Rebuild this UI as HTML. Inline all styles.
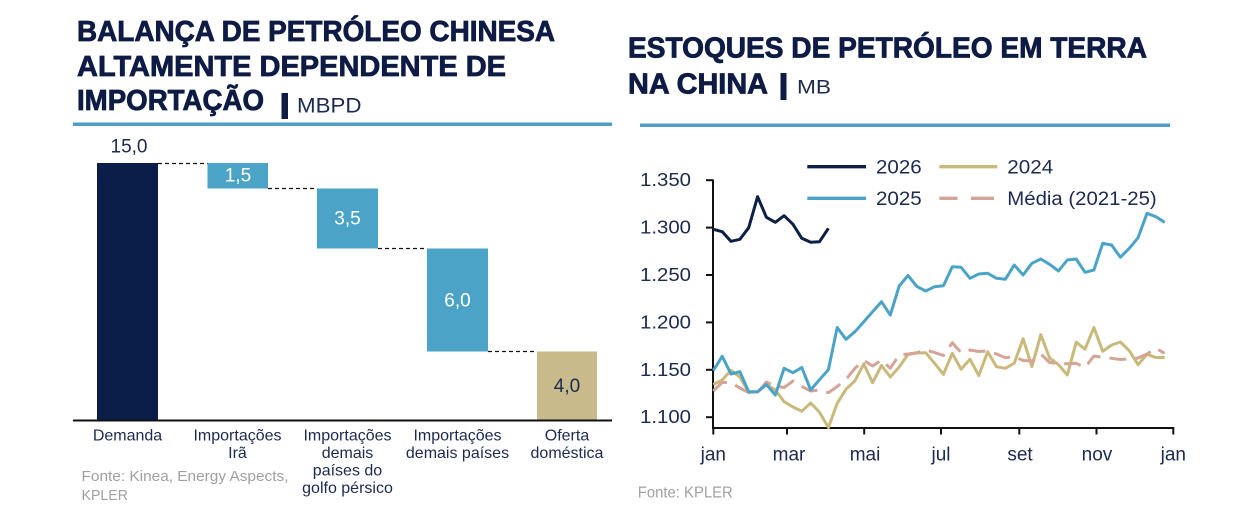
<!DOCTYPE html>
<html>
<head>
<meta charset="utf-8">
<style>
  html, body { margin: 0; padding: 0; background: #ffffff; }
  svg { display: block; }
  text { font-family: "Liberation Sans", "DejaVu Sans", sans-serif; }
</style>
</head>
<body>
<svg width="1240" height="522" viewBox="0 0 1240 522" xmlns="http://www.w3.org/2000/svg">
  <rect x="0" y="0" width="1240" height="522" fill="#ffffff"/>

  <!-- ================= LEFT CHART ================= -->
  <g fill="#0d1b45" stroke="#0d1b45" stroke-width="0.8" font-weight="bold" font-size="29">
    <text x="77" y="41" textLength="478" lengthAdjust="spacingAndGlyphs">BALANÇA DE PETRÓLEO CHINESA</text>
    <text x="77" y="76" textLength="429" lengthAdjust="spacingAndGlyphs">ALTAMENTE DEPENDENTE DE</text>
    <text x="77" y="110" textLength="187" lengthAdjust="spacingAndGlyphs">IMPORTAÇÃO</text>
  </g>
  <rect x="281.5" y="93" width="6.5" height="26" fill="#0d1b45"/>
  <text x="297" y="112.5" font-size="21" fill="#1b2a50" textLength="64.5" lengthAdjust="spacingAndGlyphs">MBPD</text>
  <rect x="73" y="122.5" width="539" height="3.5" fill="#4f9ec3"/>

  <!-- bars -->
  <rect x="97" y="163" width="61" height="257" fill="#0b1d49"/>
  <rect x="207.5" y="163" width="60.5" height="25.5" fill="#4ba3c8"/>
  <rect x="317" y="188.5" width="61" height="60" fill="#4ba3c8"/>
  <rect x="427" y="248.5" width="61" height="103" fill="#4ba3c8"/>
  <rect x="537" y="351.5" width="60" height="68.5" fill="#c9ba8b"/>

  <!-- connectors -->
  <g stroke="#111" stroke-width="1.2" stroke-dasharray="4 3" fill="none">
    <line x1="158" y1="163.5" x2="207.5" y2="163.5"/>
    <line x1="268" y1="188.5" x2="317" y2="188.5"/>
    <line x1="378" y1="248.5" x2="427" y2="248.5"/>
    <line x1="488" y1="351.5" x2="537" y2="351.5"/>
  </g>

  <!-- axis -->
  <rect x="73" y="419.5" width="539" height="2" fill="#111"/>

  <!-- value labels -->
  <g font-size="19" text-anchor="middle">
    <text x="129" y="152.7" fill="#1b2a50">15,0</text>
    <text x="238" y="181.7" fill="#ffffff">1,5</text>
    <text x="347.5" y="224.7" fill="#ffffff">3,5</text>
    <text x="457.5" y="306.7" fill="#ffffff">6,0</text>
    <text x="567" y="392" fill="#1b2a50">4,0</text>
  </g>

  <!-- category labels -->
  <g font-size="16" fill="#1b2a50" text-anchor="middle">
    <text x="127.5" y="440.5">Demanda</text>
    <text x="237.5" y="440.5">Importações</text>
    <text x="237.5" y="458">Irã</text>
    <text x="347.5" y="440.5">Importações</text>
    <text x="347.5" y="458">demais</text>
    <text x="347.5" y="475.5">países do</text>
    <text x="347.5" y="493">golfo pérsico</text>
    <text x="457.5" y="440.5">Importações</text>
    <text x="457.5" y="458">demais países</text>
    <text x="567" y="440.5">Oferta</text>
    <text x="567" y="458">doméstica</text>
  </g>

  <g font-size="15" fill="#a0a0a0">
    <text x="81.5" y="481" textLength="207" lengthAdjust="spacingAndGlyphs">Fonte: Kinea, Energy Aspects,</text>
    <text x="81.5" y="500" textLength="46.5" lengthAdjust="spacingAndGlyphs">KPLER</text>
  </g>

  <!-- ================= RIGHT CHART ================= -->
  <g fill="#0d1b45" stroke="#0d1b45" stroke-width="0.8" font-weight="bold" font-size="29">
    <text x="628" y="57.3" textLength="519" lengthAdjust="spacingAndGlyphs">ESTOQUES DE PETRÓLEO EM TERRA</text>
    <text x="628" y="93.3" textLength="140" lengthAdjust="spacingAndGlyphs">NA CHINA</text>
  </g>
  <rect x="780.5" y="73" width="6" height="27" fill="#0d1b45"/>
  <text x="797" y="93.3" font-size="19" fill="#1b2a50" textLength="34" lengthAdjust="spacingAndGlyphs">MB</text>
  <rect x="640" y="123.5" width="530" height="3.5" fill="#4f9ec3"/>

  <!-- legend -->
  <line x1="807.3" y1="166.7" x2="866" y2="166.7" stroke="#0e1f47" stroke-width="3.3"/>
  <line x1="939.3" y1="166.7" x2="997.3" y2="166.7" stroke="#c9b97b" stroke-width="3.3"/>
  <line x1="807.3" y1="198.3" x2="866" y2="198.3" stroke="#4ba3c8" stroke-width="3.3"/>
  <line x1="939.3" y1="198.3" x2="957.5" y2="198.3" stroke="#d4a596" stroke-width="3.3"/>
  <line x1="971" y1="198.3" x2="994" y2="198.3" stroke="#d4a596" stroke-width="3.3"/>
  <g font-size="19" fill="#1b2a50">
    <text x="876" y="173.3" textLength="45.7" lengthAdjust="spacingAndGlyphs">2026</text>
    <text x="1007.3" y="173.3" textLength="46" lengthAdjust="spacingAndGlyphs">2024</text>
    <text x="876" y="205" textLength="45.7" lengthAdjust="spacingAndGlyphs">2025</text>
    <text x="1007.3" y="205" textLength="149.4" lengthAdjust="spacingAndGlyphs">Média (2021-25)</text>
  </g>

  <!-- axes -->
  <g stroke="#111" stroke-width="2" fill="none">
    <line x1="713" y1="179.5" x2="713" y2="428.5"/>
    <line x1="712" y1="428" x2="1174.3" y2="428"/>
    <!-- y ticks -->
    <line x1="706" y1="180.2" x2="713" y2="180.2"/>
    <line x1="706" y1="227.6" x2="713" y2="227.6"/>
    <line x1="706" y1="275" x2="713" y2="275"/>
    <line x1="706" y1="322.4" x2="713" y2="322.4"/>
    <line x1="706" y1="369.8" x2="713" y2="369.8"/>
    <line x1="706" y1="417.2" x2="713" y2="417.2"/>
    <!-- x ticks -->
    <line x1="713.3" y1="428" x2="713.3" y2="434.5"/>
    <line x1="787" y1="428" x2="787" y2="434.5"/>
    <line x1="864.2" y1="428" x2="864.2" y2="434.5"/>
    <line x1="941" y1="428" x2="941" y2="434.5"/>
    <line x1="1019.3" y1="428" x2="1019.3" y2="434.5"/>
    <line x1="1096.5" y1="428" x2="1096.5" y2="434.5"/>
    <line x1="1173.3" y1="428" x2="1173.3" y2="434.5"/>
  </g>

  <!-- y labels -->
  <g font-size="18" fill="#1b2a50" text-anchor="end">
    <text x="691" y="186.2" textLength="51" lengthAdjust="spacingAndGlyphs">1.350</text>
    <text x="691" y="233.6" textLength="51" lengthAdjust="spacingAndGlyphs">1.300</text>
    <text x="691" y="281" textLength="51" lengthAdjust="spacingAndGlyphs">1.250</text>
    <text x="691" y="328.4" textLength="51" lengthAdjust="spacingAndGlyphs">1.200</text>
    <text x="691" y="375.8" textLength="51" lengthAdjust="spacingAndGlyphs">1.150</text>
    <text x="691" y="423.2" textLength="51" lengthAdjust="spacingAndGlyphs">1.100</text>
  </g>

  <!-- x labels -->
  <g font-size="19" fill="#1b2a50" text-anchor="middle">
    <text x="713.3" y="460.5">jan</text>
    <text x="789" y="460.5">mar</text>
    <text x="865" y="460.5">mai</text>
    <text x="941" y="460.5">jul</text>
    <text x="1020" y="460.5">set</text>
    <text x="1097" y="460.5">nov</text>
    <text x="1173.3" y="460.5">jan</text>
  </g>

  <text x="637.8" y="497.3" font-size="16" fill="#a0a0a0" textLength="95" lengthAdjust="spacingAndGlyphs">Fonte: KPLER</text>

  <!-- series -->
  <g fill="none" stroke-width="3" stroke-linejoin="round" stroke-linecap="butt">
    <!-- 2024 -->
    <polyline stroke="#c9b97b" points="713.3,384.5 722.2,380 731,370.3 739.9,377 748.7,392.2 757.6,392 766.4,384.5 775.3,390 784.1,401.7 793,407 801.8,411.2 810.7,403 819.5,412.2 828.4,427.5 837.2,403.3 846,389.2 854.9,380.8 863.8,364 872.6,382.7 881.5,365.5 890.3,377 899.2,367 908,354.5 916.9,353 925.7,352.7 934.6,363.3 943.4,374.3 952.3,353.3 961.1,369.3 970,359.3 978.8,375.5 987.7,351.7 996.5,366.7 1005.4,368.3 1014.2,363.3 1023.1,338.7 1031.9,366.7 1040.8,334.7 1049.6,358 1058.5,364.7 1067.3,375 1076.2,342.2 1085,349.2 1093.9,327.5 1102.7,351.3 1111.6,345 1120.4,342 1129.3,350.8 1138.1,364.7 1147,354.3 1155.8,357.5 1164.7,357.5"/>
    <!-- Média -->
    <polyline stroke="#d4a596" stroke-dasharray="17 9" points="713.3,391 722.2,382.5 731,382.5 739.9,388 748.7,392.7 757.6,392.5 766.4,382 775.3,386 784.1,387.5 793,381 801.8,386.5 810.7,391 819.5,390 828.4,392.7 837.2,386.5 846,379.5 854.9,368.3 863.8,360.5 872.6,366 881.5,360 890.3,368.3 899.2,355 908,354 916.9,352.7 925.7,350 934.6,352.5 943.4,355.5 952.3,342.7 961.1,352.7 970,350 978.8,351.5 987.7,351 996.5,354 1005.4,357.8 1014.2,356.5 1023.1,360.5 1031.9,361 1040.8,354 1049.6,362.5 1058.5,363.7 1067.3,363.7 1076.2,363.3 1085,367.5 1093.9,356 1102.7,357.3 1111.6,358.3 1120.4,359.5 1129.3,359 1138.1,358 1147,354 1155.8,348.3 1164.7,353.3"/>
    <!-- 2025 -->
    <polyline stroke="#4ba3c8" points="713.3,370.5 722.2,356.3 731,374 739.9,371.7 748.7,391.7 757.6,391.7 766.4,384.5 775.3,395 784.1,368.3 793,372.7 801.8,367.5 810.7,390 819.5,379.7 828.4,369.7 837.2,327.5 846,339.3 854.9,331.7 863.8,321.7 872.6,311.7 881.5,301.7 890.3,315 899.2,286 908,275.5 916.9,286.5 925.7,291 934.6,286.7 943.4,285.7 952.3,266.7 961.1,267.3 970,278.3 978.8,274 987.7,273.3 996.5,278.3 1005.4,279.3 1014.2,265 1023.1,275 1031.9,263.3 1040.8,259 1049.6,264.3 1058.5,271 1067.3,260 1076.2,259 1085,272.3 1093.9,270 1102.7,243.3 1111.6,245 1120.4,257.3 1129.3,248.3 1138.1,237.7 1147,213.3 1155.8,216.7 1164.7,222.3"/>
    <!-- 2026 -->
    <polyline stroke="#0e1f47" points="713.3,229.3 722.2,231.7 731,241.3 739.9,239.3 748.7,227.7 757.6,196.7 766.4,217.3 775.3,222.3 784.1,215.7 793,224.3 801.8,238.3 810.7,242.3 819.5,241.7 828.4,228.3"/>
  </g>
</svg>
</body>
</html>
